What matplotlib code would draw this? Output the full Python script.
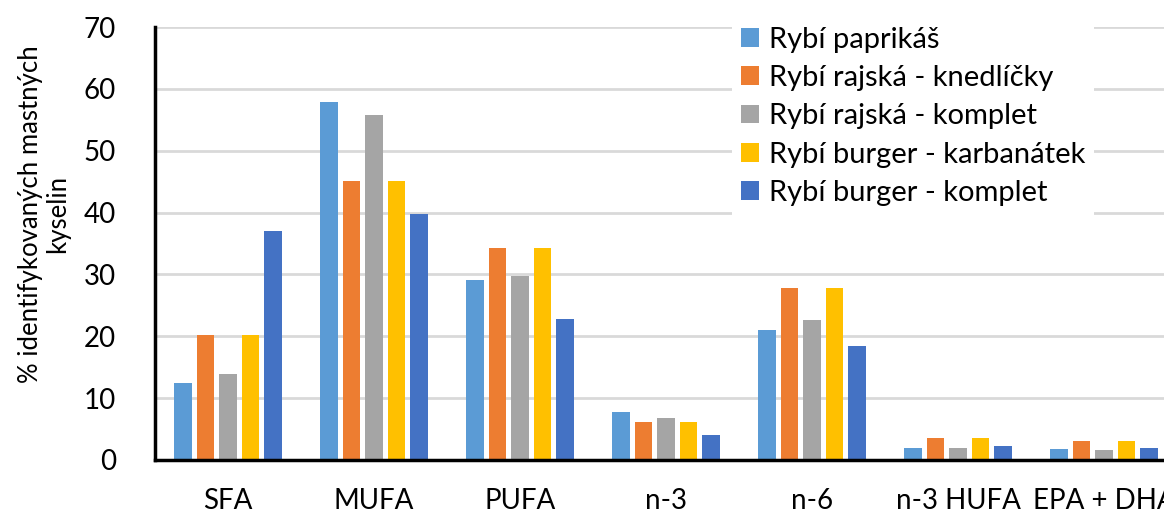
import numpy as np
import matplotlib.pyplot as plt

plt.rcParams['font.family'] = ['Lato', 'DejaVu Sans']

categories = ['SFA', 'MUFA', 'PUFA', 'n-3', 'n-6', 'n-3 HUFA', 'EPA + DHA']
series_names = ['Rybí paprikáš', 'Rybí rajská - knedlíčky', 'Rybí rajská - komplet',
                'Rybí burger - karbanátek', 'Rybí burger - komplet']
paprikas = [12.5, 57.9, 29.1, 7.75, 21.05, 2.0, 1.8]
rajska_knedlicky = [20.2, 45.1, 34.2, 6.2, 27.8, 3.55, 3.1]
rajska_komplet = [13.9, 55.8, 29.8, 6.85, 22.6, 1.9, 1.65]
burger_karbanatek = [20.2, 45.1, 34.2, 6.2, 27.8, 3.55, 3.1]
burger_komplet = [37.0, 39.7, 22.8, 4.1, 18.5, 2.2, 1.9]
colors = ['#5b9bd5', '#ed7d31', '#a5a5a5', '#ffc000', '#4472c4']

values = [paprikas, rajska_knedlicky, rajska_komplet, burger_karbanatek, burger_komplet]

fig = plt.figure(figsize=(11.64, 5.15), dpi=100)
ax = fig.add_axes([155 / 1164, 1 - 460 / 515, 1022 / 1164, 433 / 515])

x = np.arange(len(categories))
pitch = 0.153
width = 0.121
for i, (name, vals, c) in enumerate(zip(series_names, values, colors)):
    ax.bar(x + (i - 2) * pitch, vals, width, color=c, label=name, zorder=3)

ax.set_xlim(-0.5, len(categories) - 0.5)
ax.set_ylim(0, 70)
ax.set_yticks(range(0, 71, 10))
ax.set_xticks(x)
ax.set_xticklabels(categories)
ax.yaxis.grid(True, color='#d9d9d9', linewidth=2, zorder=0)
ax.set_axisbelow(True)

for s in ['top', 'right']:
    ax.spines[s].set_visible(False)
for s in ['left', 'bottom']:
    ax.spines[s].set_linewidth(2.5)
    ax.spines[s].set_color('black')
    ax.spines[s].set_zorder(4)

ax.tick_params(axis='both', length=0, labelsize=20)
ax.tick_params(axis='y', pad=28)
ax.tick_params(axis='x', pad=20)

ax.set_ylabel('% identifykovaných mastných\nkyselin', fontsize=18.5, linespacing=1.1)
ax.yaxis.set_label_coords(-0.083, 0.568)

leg = fig.legend(loc='upper left', bbox_to_anchor=(732 / 1164, 1 - 18 / 515),
                 fontsize=21, frameon=True, facecolor='white', edgecolor='none',
                 framealpha=1, fancybox=False, handlelength=0.62, handleheight=0.62,
                 handletextpad=0.35, labelspacing=0.42, borderaxespad=0,
                 borderpad=0.3)

fig.savefig('out.png', dpi=100)
